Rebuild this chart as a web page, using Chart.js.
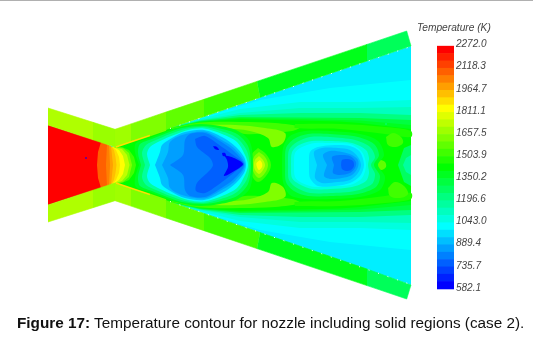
<!DOCTYPE html>
<html>
<head>
<meta charset="utf-8">
<script src="https://cdn.jsdelivr.net/npm/chart.js@4/dist/chart.umd.js"></script>
<style>
	html, body { margin: 0; padding: 0; background: #fff; }
	body { position: relative; width: 533px; height: 340px; overflow: hidden; }
	#rule { position: absolute; left: 0; top: 0; width: 533px; height: 1px; background: #b0b0b0; }
	#nozzle { position: absolute; left: 0; top: 0; }
	#bar { position: absolute; left: 437px; top: 31px; }
	#barTitle { position: absolute; left: 417px; top: 22px; font: italic 10.2px "Liberation Sans", sans-serif; color: #444; white-space: nowrap; }
	#caption { position: absolute; left: 17px; top: 314px; font: 15.3px "Liberation Sans", sans-serif; color: #111; white-space: nowrap; }
</style>
</head>
<body>
<div id="rule"></div>
<canvas id="nozzle" width="533" height="340"></canvas>
<canvas id="bar" width="57" height="271"></canvas>
<div id="barTitle">Temperature (K)</div>
<div id="caption"><b>Figure 17:</b> Temperature contour for nozzle including solid regions (case 2).</div>
<script>
// legend values, one label every third colour band
const legendTicks = [582.1, 735.7, 889.4, 1043.0, 1196.6, 1350.2, 1503.9, 1657.5, 1811.1, 1964.7, 2118.3, 2272.0];
const bandCount = 33;
const bandStart = 575;
const bandStep = 51.07;

// Levels are colour band numbers, 0 = 582 K (blue), 32 = 2272 K (red)
const gasLevels = [7.5, 8, 9, 10, 12, 14, 15, 16];
const gasShapes = [
	[[48,125],[115,147],[411,46],[411,285],[115,183],[48,205]],
	[[200,118],[260,100],[330,88],[411,80],[411,250],[330,242],[260,230],[200,212]],
	[[115,147],[182,124],[200,119],[240,109],[300,102],[360,102],[411,100],[411,230],[360,228],[300,228],[240,221],[200,211],[182,206],[115,183]],
	[[115,147],[178,125],[200,120],[240,113],[300,108],[360,108],[411,107],[411,223],[360,222],[300,222],[240,217],[200,210],[178,205],[115,183]],
	[[115,147],[174,126.5],[200,120.5],[240,115],[300,113],[360,113],[411,115],[411,215],[360,217],[300,217],[240,215],[200,209.5],[174,203.5],[115,183]],
	[[115,147],[170,128],[200,121],[240,117],[300,117.5],[360,118],[411,120],[411,210],[360,212],[300,212.5],[240,213],[200,209],[170,202],[115,183]],
	[[115,147],[168,128.5],[200,121.5],[240,118],[300,119],[360,120.5],[411,125],[411,205],[360,209.5],[300,211],[240,212],[200,208.5],[168,201.5],[115,183]],
	[[115,147],[166,129.5],[200,122],[240,119],[300,120.5],[340,121.5],[360,123],[411,129],[411,201],[360,207],[340,208.5],[300,209.5],[240,211],[200,208],[166,200.5],[115,183]]
];

const ridgeLevels = [18, 20, 20, 18, 20, 20, 17, 17, 18, 20, 22, 24, 18, 18, 19];
const ridgeShapes = [
	[[172,128],[200,122.5],[240,122],[275,123],[300,127],[292,131],[270,133],[245,134],[225,130],[200,126],[172,129]],
	[[205,125],[235,125],[265,128],[285,133],[283,143],[272,147],[268,138],[250,131],[225,128],[205,125]],
	[[270,133],[278,131],[283,136],[281,142],[274,143],[270,133]],
	[[172,202],[200,207.5],[240,208],[275,207],[300,203],[292,199],[270,197],[245,196],[225,200],[200,204],[172,201]],
	[[205,205],[235,205],[265,202],[285,197],[283,187],[272,183],[268,192],[250,199],[225,202],[205,205]],
	[[270,197],[278,199],[283,194],[281,188],[274,187],[270,197]],
	[[295,124],[340,124],[385,127],[411,131],[411,137],[385,134],[340,129],[295,128],[295,124]],
	[[295,206],[340,206],[385,203],[411,199],[411,193],[385,196],[340,201],[295,202],[295,206]],
	[[258,148],[266,154],[271,165],[266,176],[258,182],[252,176],[249,165],[252,154],[258,148]],
	[[259,152],[265,157],[268,165],[265,173],[259,178],[254,173],[252,165],[254,157],[259,152]],
	[[259,156],[263,160],[265,165],[263,170],[259,174],[255,170],[254,165],[255,160],[259,156]],
	[[260,160],[262,163],[262,167],[259,170],[257,167],[256.5,163],[260,160]],
	[[386,137],[393,133],[401,137],[403,143],[396,147],[388,145],[386,137]],
	[[388,188],[395,182],[404,186],[408,194],[400,198],[390,196],[388,188]],
	[[376,165],[380,160],[385,162],[386,167],[381,170],[376,165]]
];

const throatLevels = [18, 20, 22, 24, 25, 26, 27, 28, 29, 32];
const throatShapes = [
	[[113,147],[122,147],[129,150],[134,157],[136,165],[134,173],[129,180],[122,183],[113,184]],
	[[113,147],[123,148],[129,153],[132,165],[129,177],[123,182],[113,184]],
	[[113,147],[122,149],[127,155],[129.5,165],[127,175],[122,181],[113,184]],
	[[113,147],[119,150],[123,156],[125,165],[123,174],[119,180],[113,184]],
	[[112,146],[116,150],[119,157],[120,165],[119,173],[116,180],[112,185]],
	[[111,146],[114,150],[115.5,157],[116.5,165],[115.5,173],[114,180],[111,185]],
	[[90,137],[111,146],[113,165],[111,185],[90,194]],
	[[90,137],[109,145],[110,165],[109,186],[90,194]],
	[[90,137],[107,144.5],[106,165],[107,186],[90,194]],
	[[48,125],[101,142],[98,152],[97,165],[98,178],[101,188],[48,205]]
];

const coreLevels = [15, 13, 11, 8, 6, 5, 4, 3, 0, 0, 0];
const coreShapes = [
	[[139,165],[135,152],[136,143],[150,138],[165,132],[180,127],[200,124],[220,126],[238,131],[250,142],[253,165],[250,188],[238,199],[220,204],[200,206],[180,203],[165,198],[150,192],[136,187],[135,178],[139,165]],
	[[141,165],[138,153],[140,144],[152,139],[167,133],[182,128],[203,126],[220,128.5],[237,134],[248,146],[251,165],[248,184],[237,196],[220,201.5],[203,204],[182,202],[167,197],[152,191],[140,186],[138,177],[141,165]],
	[[145,165],[142,153],[146,145],[156,140],[170,134],[185,129],[203,127],[221,131],[237,138],[247,151],[249.5,165],[247,179],[237,192],[221,199],[203,203],[185,201],[170,196],[156,190],[146,185],[142,177],[145,165]],
	[[150,165],[147,154],[150,147],[160,141],[174,135],[188,130],[204,128.5],[222,134],[237,142],[245,155],[248,165],[245,175],[237,188],[222,196],[204,201.5],[188,200],[174,195],[160,189],[150,183],[147,176],[150,165]],
	[[155,165],[160,152],[162,145],[172,138],[185,132],[204,130],[222,137],[236,147],[244,157],[246,165],[244,173],[236,183],[222,193],[204,200],[185,198],[172,192],[162,185],[160,178],[155,165]],
	[[162,165],[168,152],[170,142],[182,135],[204,131.5],[220,139],[235,149],[245,165],[235,181],[220,191],[204,198.5],[182,195],[170,188],[168,178],[162,165]],
	[[170,165],[183,155],[185,140],[190,134],[205,133],[220,141],[234,151],[244,165],[234,179],[220,189],[205,197],[190,196],[185,190],[183,175],[170,165]],
	[[195,139],[205,136],[222,147],[236,157],[244,164],[236,171],[222,182],[205,193],[196,191],[197,183],[210,170],[213,165],[210,158],[197,147],[195,139]],
	[[224,155],[234,158],[243,164],[236,170],[224,176],[228,167],[227,160],[224,155]],
	[[213,146],[217,147],[219,150],[215,149],[213,146]],
	[[222,153],[225,153],[226,156],[223,156],[222,153]]
];

const secondLevels = [15, 13, 11, 9, 8, 7, 6, 5, 4, 3];
const secondShapes = [
	[[282,165],[283,148],[290,136],[305,131],[330,131],[360,134],[378,141],[384,155],[378,165],[385,177],[380,190],[360,197],[330,199],[305,199],[290,195],[283,182],[282,165]],
	[[285,165],[286,148],[294,139],[308,134],[330,134],[358,137],[374,144],[379,155],[374,165],[380,176],[376,187],[358,194],[330,196],[308,196],[294,191],[286,182],[285,165]],
	[[288,165],[289,150],[297,142],[310,137],[330,137],[355,140],[370,147],[375,157],[371,165],[375,174],[372,184],[355,191],[330,193],[310,193],[297,188],[289,180],[288,165]],
	[[291,165],[292,152],[299,145],[312,141],[330,141],[352,143],[366,150],[369,158],[368,165],[369,173],[366,181],[352,187],[330,189],[312,189],[299,184],[292,178],[291,165]],
	[[294,165],[295,153],[302,147],[315,143],[330,143],[350,144],[362,152],[366,165],[362,178],[350,185],[330,186],[315,187],[302,183],[295,177],[294,165]],
	[[309,165],[310,152],[318,147],[335,145],[350,146],[360,152],[364,165],[360,176],[350,183],[335,186],[318,186],[310,178],[309,165]],
	[[317,165],[314,152],[322,148],[338,148],[350,150],[358,157],[361,165],[358,173],[350,180],[338,182],[322,183],[315,178],[317,165]],
	[[327,165],[323,155],[330,151],[342,152],[352,155],[358,160],[358,167],[352,175],[342,178],[330,179],[324,176],[327,165]],
	[[334,165],[332,157],[340,155],[350,156],[356,162],[355,168],[350,173],[340,175],[333,173],[334,165]],
	[[341,165],[342,160],[348,159],[353,161],[354,166],[351,170],[346,171],[342,169],[341,165]]
];

const exitLevels = [13, 11];
const exitShapes = [
	[[411,145],[404,148],[398,165],[404,182],[411,186]],
	[[411,155],[406,158],[403,165],[406,172],[411,175]]
];

// solid wall blocks, one temperature each
const wallLevels = [21.5, 20.8, 21, 20, 19, 17.9, 15.2, 13.2, 21.5, 20.8, 21, 20, 19, 17.9, 15.2, 13.2];
const wallShapes = [
	[[48,108],[93,122.3],[93,139.8],[48,125]],
	[[93,122.3],[115,129.3],[115,147],[93,139.8]],
	[[115,129.3],[131,123.9],[131,141.5],[115,147]],
	[[131,123.9],[166,112],[166,129.6],[131,141.5]],
	[[166,112],[204,99.3],[204,116.6],[166,129.6]],
	[[204,99.3],[257,81.4],[260,97.5],[204,116.6]],
	[[257,81.4],[367,44.4],[367,61],[260,97.5]],
	[[367,44.4],[406.7,31],[411,46],[367,61]],
	[[48,222],[93,207.7],[93,190.2],[48,205]],
	[[93,207.7],[115,200.7],[115,183],[93,190.2]],
	[[115,200.7],[131,206.1],[131,188.5],[115,183]],
	[[131,206.1],[166,218],[166,200.4],[131,188.5]],
	[[166,218],[204,230.7],[204,213.4],[166,200.4]],
	[[204,230.7],[257,248.6],[260,232.5],[204,213.4]],
	[[257,248.6],[367,285.6],[367,269],[260,232.5]],
	[[367,285.6],[406.7,299],[411,285],[367,269]]
];

// thin hot layer where the gas leaves the throat
const hotLineLevels = [25, 20, 25, 20];
const hotLines = [
	[[116,147],[135,140.5],[150,135.5]],
	[[150,135.5],[166,130]],
	[[116,183],[135,189.5],[150,194.5]],
	[[150,194.5],[166,200]]
];
const wallDots = [
	[[170,128.5],[411,46.5]],
	[[170,201.5],[411,284.5]]
];
const strayCells = [[86,158],[386,124]];
const strayLevels = [0, 12];

function levelColor(level) {
	const t = level / 32;
	let r = 0, g = 255, b = 0;
	if (t < 0.25) { g = 255 * 4 * t; b = 255; }
	else if (t < 0.5) { b = 255 * (1 - 4 * (t - 0.25)); }
	else if (t < 0.75) { r = 255 * 4 * (t - 0.5); }
	else { r = 255; g = 255 * (1 - 4 * (t - 0.75)); }
	return `rgb(${Math.round(r)},${Math.round(g)},${Math.round(b)})`;
}

const datasets = [];
function addFilled(shapes, levels, tension, borderWidth) {
	shapes.forEach((points, i) => {
		const color = levelColor(levels[i]);
		datasets.push({
			data: points,
			showLine: true,
			fill: 'shape',
			backgroundColor: color,
			borderColor: color,
			borderWidth,
			tension,
			pointRadius: 0
		});
	});
}

addFilled(gasShapes, gasLevels, 0, 0);
addFilled(ridgeShapes, ridgeLevels, 0.35, 0);
addFilled(throatShapes, throatLevels, 0, 0);
addFilled(coreShapes, coreLevels, 0.3, 0);
addFilled(secondShapes, secondLevels, 0.3, 0);
addFilled(exitShapes, exitLevels, 0, 0);
addFilled(wallShapes, wallLevels, 0, 0.6);

hotLines.forEach((points, i) => {
	datasets.push({ data: points, showLine: true, borderColor: levelColor(hotLineLevels[i]), borderWidth: 1.5, pointRadius: 0 });
});
wallDots.forEach(points => {
	datasets.push({ data: points, showLine: true, borderColor: '#fff', borderWidth: 1, borderDash: [1, 9], pointRadius: 0 });
});
strayCells.forEach((cell, i) => {
	datasets.push({ data: [cell], pointStyle: 'rect', pointRadius: 1, borderWidth: 0, backgroundColor: levelColor(strayLevels[i]) });
});

// Chart.js paints the first dataset last
datasets.reverse();

new Chart(document.getElementById('nozzle'), {
	type: 'scatter',
	data: { datasets },
	options: {
		responsive: false,
		animation: false,
		layout: { padding: 0, autoPadding: false },
		plugins: { legend: { display: false }, tooltip: { enabled: false } },
		scales: {
			x: { type: 'linear', min: 0, max: 533, display: false },
			y: { type: 'linear', min: 0, max: 340, reverse: true, display: false }
		}
	}
});

const bandSets = [];
for (let i = 0; i < bandCount; i++) {
	bandSets.push({
		data: [[bandStart + i * bandStep, bandStart + (i + 1) * bandStep]],
		backgroundColor: levelColor(i),
		borderWidth: 0,
		barPercentage: 1,
		categoryPercentage: 1,
		grouped: false
	});
}

new Chart(document.getElementById('bar'), {
	type: 'bar',
	data: { labels: ['T'], datasets: bandSets },
	options: {
		responsive: false,
		animation: false,
		layout: { padding: 0 },
		plugins: { legend: { display: false }, tooltip: { enabled: false } },
		scales: {
			x: { display: false },
			y: {
				position: 'right',
				min: 540,
				max: 2310,
				grid: { display: false, drawTicks: false },
				border: { display: false },
				afterBuildTicks: axis => { axis.ticks = legendTicks.map(value => ({ value })); },
				afterFit: axis => { axis.width = 40; },
				ticks: {
					padding: 2,
					color: '#444',
					autoSkip: false,
					font: { family: 'Liberation Sans', size: 10, style: 'italic' },
					callback: value => value.toFixed(1)
				}
			}
		}
	}
});
</script>
</body>
</html>
